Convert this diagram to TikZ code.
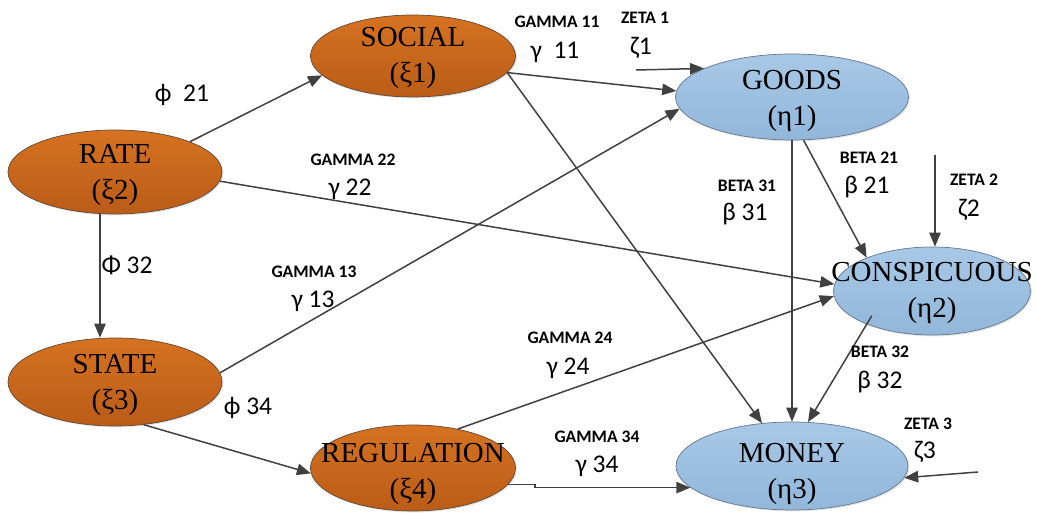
\documentclass[tikz,border=0pt]{standalone}
\usepackage{fontspec}
\setmainfont{Liberation Serif}
\newfontfamily\lblfont{Carlito}
\usetikzlibrary{shapes.geometric,arrows.meta,shadows}
\definecolor{exotop}{RGB}{214,114,32}
\definecolor{exobot}{RGB}{186,92,24}
\definecolor{exoline}{RGB}{95,72,55}
\definecolor{endotop}{RGB}{168,200,230}
\definecolor{endobot}{RGB}{146,183,218}
\definecolor{endoline}{RGB}{100,118,138}
\definecolor{linegray}{RGB}{64,64,64}
\begin{document}
\begin{tikzpicture}[x=0.2mm,y=-0.2mm,
    exo/.style={ellipse,draw=exoline,top color=exotop,bottom color=exobot,inner sep=0pt,
        drop shadow={opacity=0.2,shadow xshift=0.8pt,shadow yshift=-0.8pt}},
    endo/.style={ellipse,draw=endoline,top color=endotop,bottom color=endobot,inner sep=0pt,
        drop shadow={opacity=0.2,shadow xshift=0.8pt,shadow yshift=-0.8pt}},
    nm/.style={font=\fontsize{16.5}{20.5}\selectfont,align=center,inner sep=0pt},
    pname/.style={font=\lblfont\bfseries\fontsize{10}{12}\selectfont,inner sep=0pt},
    coef/.style={font=\lblfont\fontsize{14.5}{16}\selectfont,inner sep=0pt},
    arr/.style={draw=linegray,line width=0.85pt,-{Triangle[length=8pt,width=6.5pt]}}]
    \path[use as bounding box] (0,0) rectangle (1037,515);
    %\draw[loosely dotted] (0,0) grid[step=50] (1037,515);

    % exogenous
    \node[exo,minimum width=4.1cm,minimum height=1.64cm] (social) at (413,56) {};
    \node[exo,minimum width=4.28cm,minimum height=1.68cm] (rate) at (115,172) {};
    \node[exo,minimum width=4.28cm,minimum height=1.76cm] (state) at (115,382) {};
    \node[exo,minimum width=4.1cm,minimum height=1.72cm] (regulation) at (413,468) {};
    % endogenous
    \node[endo,minimum width=4.66cm,minimum height=1.72cm] (goods) at (792,97) {};
    \node[endo,minimum width=3.94cm,minimum height=1.76cm] (consp) at (932,291) {};
    \node[endo,minimum width=4.64cm,minimum height=1.76cm] (money) at (792,466) {};

    \node[nm] (social-t) at (413,58) {SOCIAL\\(ξ1)};
    \node[nm] (rate-t) at (115,175) {RATE\\(ξ2)};
    \node[nm] (state-t) at (115,385) {STATE\\(ξ3)};
    \node[nm] (regulation-t) at (413,474) {REGULATION\\(ξ4)};
    \node[nm] (goods-t) at (792,101) {GOODS\\(η1)};
    \node[nm] (consp-t) at (932,293) {CONSPICUOUS\\(η2)};
    \node[nm] (money-t) at (792,474) {MONEY\\(η3)};

    \coordinate (z1) at (636,70);
    \coordinate (z2) at (935,155);
    \coordinate (z3) at (978,472);

    \draw[arr] (rate.22) -- (social.192);
    \draw[arr] (social.-10) -- (goods.177);
    \draw[arr] (z1) -- (goods.162);
    \draw[arr] (state.5) -- (goods.186);
    \draw[arr] (rate.-5) -- (consp.176);
    \draw[arr] (regulation.41) -- (consp.183);
    \draw[arr] (social.-10) -- (money.125);
    \draw[arr] (goods.south) -- (money.north);
    \draw[arr] (goods.-75) -- (consp.153);
    \draw[arr,shorten <=-0.2cm] (consp.207) -- (money.70);
    \draw[arr] ([xshift=-0.3cm]rate.south) -- ([xshift=-0.3cm]state.north);
    \draw[arr] (state.-56) -- (regulation.183);
    \draw[arr] (regulation.-10) -- ++(27,0) |- (money.192);
    \draw[arr] (z2) -- (z2 |- consp.north);
    \draw[arr] (z3) -- (money.-6);

    % coefficients
    \node[coef] (p21) at (182,95) {ϕ\ \ 21};
    \node[pname] (g11) at (557,22) {GAMMA 11};
    \node[coef] (g11v) at (555,52) {γ\ \ 11};
    \node[pname] (zt1) at (645,18) {ZETA 1};
    \node[coef] (zt1v) at (641,48) {ζ1};
    \node[pname] (g22) at (353,160) {GAMMA 22};
    \node[coef] (g22v) at (350,189) {γ 22};
    \node[pname] (b31) at (747,186) {BETA 31};
    \node[coef] (b31v) at (745,214) {β 31};
    \node[pname] (b21) at (869,158) {BETA 21};
    \node[coef] (b21v) at (867,187) {β 21};
    \node[pname] (zt2) at (974,180) {ZETA 2};
    \node[coef] (zt2v) at (969,210) {ζ2};
    \node[coef] (p32) at (127,265) {Φ 32};
    \node[pname] (g13) at (314,272) {GAMMA 13};
    \node[coef] (g13v) at (313,301) {γ 13};
    \node[pname] (g24) at (570,338) {GAMMA 24};
    \node[coef] (g24v) at (568,368) {γ 24};
    \node[pname] (b32) at (880,352) {BETA 32};
    \node[coef] (b32v) at (880,382) {β 32};
    \node[coef] (p34) at (248,408) {ϕ 34};
    \node[pname] (g34) at (597,437) {GAMMA 34};
    \node[coef] (g34v) at (597,466) {γ 34};
    \node[pname] (zt3) at (928,424) {ZETA 3};
    \node[coef] (zt3v) at (925,452) {ζ3};
\end{tikzpicture}
\end{document}
